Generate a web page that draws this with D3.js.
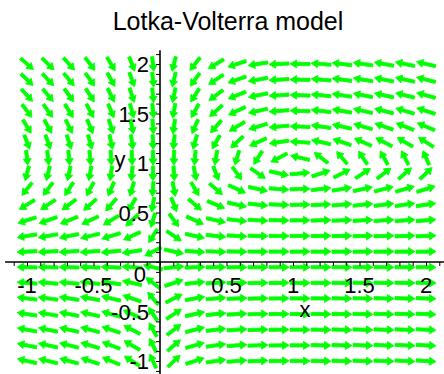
<!DOCTYPE html>
<html>
<head>
<meta charset="utf-8">
<script src="https://cdn.jsdelivr.net/npm/d3@7"></script>
<style>
  body { margin: 0; background: #fff; }
  text { font-family: "Liberation Sans", Arial, sans-serif; fill: #000; }
</style>
</head>
<body>
<div id="chart"></div>
<script>
// grid of the direction field (20 x 20 points on -1..2)
const xGrid = [-1, -0.842, -0.684, -0.526, -0.368, -0.211, -0.053, 0.105, 0.263, 0.421,
               0.579, 0.737, 0.895, 1.053, 1.211, 1.368, 1.526, 1.684, 1.842, 2];
const yGrid = [-1, -0.842, -0.684, -0.526, -0.368, -0.211, -0.053, 0.105, 0.263, 0.421,
               0.579, 0.737, 0.895, 1.053, 1.211, 1.368, 1.526, 1.684, 1.842, 2];

// Lotka-Volterra: dx/dt = a*x*(1 - y), dy/dt = c*y*(x - 1)
const preyRate = [1];
const predatorRate = [0.3];

const xTickValues = [-1, -0.5, 0.5, 1, 1.5, 2];
const xTickLabels = ["-1", "-0.5", "0.5", "1", "1.5", "2"];
const yTickValues = [-1, -0.5, 0.5, 1, 1.5, 2];
const yTickLabels = ["-1", "-0.5", "0.5", "1", "1.5", "2"];

const width = 444, height = 374;

const svg = d3.select("#chart")
  .append("svg")
  .attr("width", width)
  .attr("height", height);

const x = d3.scaleLinear().domain([-1, 2]).range([27, 426]);
const y = d3.scaleLinear().domain([-1, 2]).range([361, 64]);

// title
svg.append("text")
  .attr("x", 228)
  .attr("y", 30)
  .attr("text-anchor", "middle")
  .style("font-size", "25px")
  .text("Lotka-Volterra model");

// arrows
const field = [];
yGrid.forEach(yy => {
  xGrid.forEach(xx => {
    const dx = preyRate[0] * xx * (1 - yy);
    const dy = predatorRate[0] * yy * (xx - 1);
    field.push({ x: xx, y: yy, dx: dx, dy: dy });
  });
});

const h = 0.15; // arrow length in data units
function arrowPath(d) {
  const m = Math.hypot(d.dx, d.dy) || 1;
  const ux = d.dx / m, uy = d.dy / m;
  const tx = x(d.x - ux * h / 2), ty = y(d.y - uy * h / 2);
  const hx = x(d.x + ux * h / 2), hy = y(d.y + uy * h / 2);
  const len = Math.hypot(hx - tx, hy - ty);
  const ex = (hx - tx) / len, ey = (hy - ty) / len;
  const nx = -ey, ny = ex;
  const sw = 1.6, hw = 4, hl = Math.min(6.5, len * 0.42);
  const bx = hx - ex * hl, by = hy - ey * hl;
  const pts = [
    [tx + nx * sw, ty + ny * sw],
    [bx + nx * sw, by + ny * sw],
    [bx + nx * hw, by + ny * hw],
    [hx, hy],
    [bx - nx * hw, by - ny * hw],
    [bx - nx * sw, by - ny * sw],
    [tx - nx * sw, ty - ny * sw]
  ];
  return "M" + pts.map(p => p[0].toFixed(2) + "," + p[1].toFixed(2)).join("L") + "Z";
}

svg.append("g")
  .selectAll("path")
  .data(field)
  .enter()
  .append("path")
  .attr("d", arrowPath)
  .attr("fill", "#00ff00")
  .attr("stroke", "#00ff00")
  .attr("stroke-width", 0.8);

// axes
const minorX = d3.range(-11, 22).map(i => i / 10);
const minorY = d3.range(-11, 22).map(i => i / 10);

svg.append("g")
  .attr("transform", "translate(0," + y(0) + ")")
  .call(d3.axisBottom(x).tickValues(minorX).tickSize(4).tickFormat(""))
  .call(g => g.select(".domain").remove())
  .call(g => g.selectAll("line").attr("stroke", "#000"));

svg.append("g")
  .attr("transform", "translate(" + x(0) + ",0)")
  .call(d3.axisLeft(y).tickValues(minorY).tickSize(4).tickFormat(""))
  .call(g => g.select(".domain").remove())
  .call(g => g.selectAll("line").attr("stroke", "#000"));

svg.append("line")
  .attr("x1", x(-1.165)).attr("x2", x(2.15))
  .attr("y1", y(0)).attr("y2", y(0))
  .attr("stroke", "#000").attr("stroke-width", 1.6);

svg.append("line")
  .attr("x1", x(0)).attr("x2", x(0))
  .attr("y1", y(2.14)).attr("y2", y(-1.15))
  .attr("stroke", "#000").attr("stroke-width", 1.6);

// tick labels
svg.append("g")
  .selectAll("text")
  .data(xTickValues)
  .enter()
  .append("text")
  .attr("x", d => x(d))
  .attr("y", y(0) + 31)
  .attr("text-anchor", "middle")
  .style("font-size", "22px")
  .text((d, i) => xTickLabels[i]);

svg.append("g")
  .selectAll("text")
  .data(yTickValues)
  .enter()
  .append("text")
  .attr("x", x(0) - 11)
  .attr("y", d => y(d) + 8)
  .attr("text-anchor", "end")
  .style("font-size", "22px")
  .text((d, i) => yTickLabels[i]);

svg.append("text")
  .attr("x", x(0) - 14)
  .attr("y", y(0) + 20)
  .attr("text-anchor", "end")
  .style("font-size", "22px")
  .text("0");

// axis labels
svg.append("text")
  .attr("x", x(1.09))
  .attr("y", y(0) + 55)
  .attr("text-anchor", "middle")
  .style("font-size", "22px")
  .text("x");

svg.append("text")
  .attr("x", x(-0.3))
  .attr("y", y(1) + 4)
  .attr("text-anchor", "middle")
  .style("font-size", "22px")
  .text("y");
</script>
</body>
</html>
